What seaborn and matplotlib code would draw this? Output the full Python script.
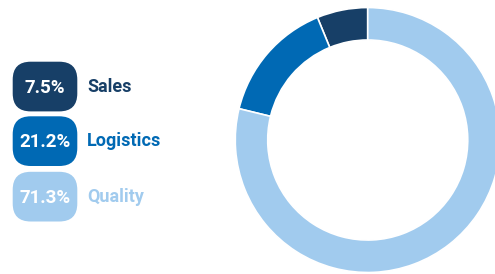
import matplotlib.pyplot as plt
import seaborn as sns
from matplotlib.patches import FancyBboxPatch

# departments, shares printed in the badges, and slice sizes as drawn in the ring
departments = ["Sales", "Logistics", "Quality"]
badge_labels = ["7.5%", "21.2%", "71.3%"]
slice_sizes = [6.2, 15.0, 78.8]
colors = ["#173F67", "#0069B4", "#A1CBEE"]

sns.set_theme(style="white")
plt.rcParams["font.family"] = ["Roboto", "DejaVu Sans"]

fig = plt.figure(figsize=(4.95, 2.74), dpi=100)

# donut, partly cut off at the right edge
ax = fig.add_axes([0.4752, 0.0055, 0.5354, 0.967])
ax.pie(
    slice_sizes,
    colors=colors,
    startangle=90,
    counterclock=True,
    radius=1.0,
    wedgeprops=dict(width=0.245, edgecolor="white", linewidth=1.2),
)
ax.set_xlim(-1, 1)
ax.set_ylim(-1, 1)
ax.set_aspect("equal")
ax.axis("off")

# legend with rounded badges, in pixel coordinates
leg = fig.add_axes([0, 0, 1, 1], zorder=-1)
leg.set_xlim(0, 495)
leg.set_ylim(274, 0)
leg.axis("off")

tops = [61.7, 116.3, 171.8]
for top, name, badge, col in zip(tops, departments, badge_labels, colors):
    box = FancyBboxPatch(
        (12.7, top), 64.6, 49.7,
        boxstyle="round,pad=0,rounding_size=18",
        facecolor=col, edgecolor="none",
    )
    leg.add_patch(box)
    yc = top + 49.7 / 2
    leg.text(45, yc + 1, badge, color="white", fontsize=13.5, fontweight="bold",
             ha="center", va="center")
    leg.text(87, yc, name, color=col, fontsize=13, fontweight="bold",
             ha="left", va="center")

fig.savefig("out.png", dpi=100)
